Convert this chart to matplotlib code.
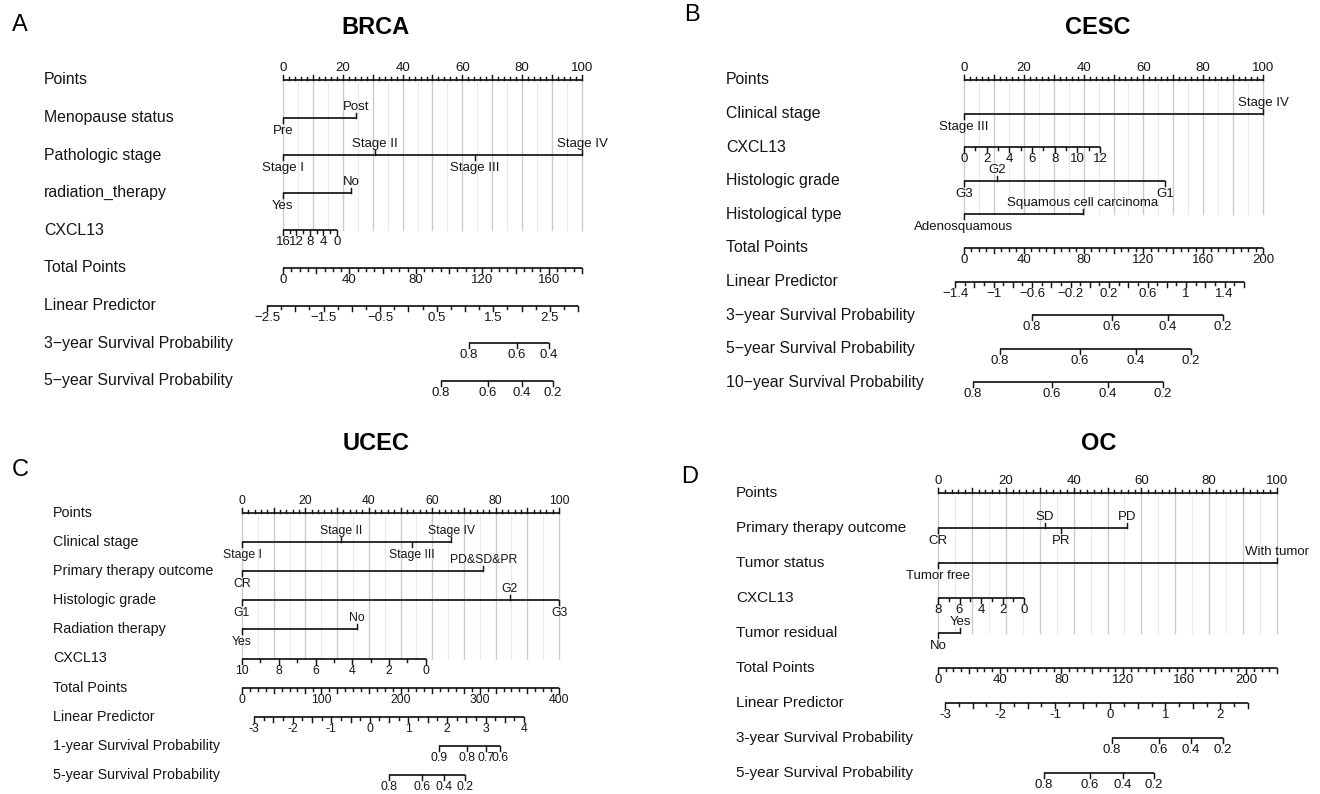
import numpy as np
import matplotlib.pyplot as plt

plt.rcParams['font.family'] = ['Liberation Sans', 'DejaVu Sans']

W, H, DPI = 1320, 794, 100
INK = '#151515'
LW = 1.25

# ---------------- A: BRCA ----------------
brca_menopause = ['Pre', 'Post']
brca_menopause_pts = [0, 24.5]
brca_stage = ['Stage I', 'Stage II', 'Stage III', 'Stage IV']
brca_stage_pts = [0, 30.7, 64.2, 100]
brca_radiation = ['Yes', 'No']
brca_radiation_pts = [0, 22.8]
brca_cxcl13_ends = [16, 0]
brca_cxcl13_end_pts = [0, 18]
brca_cxcl13_labels = [16, 12, 8, 4, 0]
brca_total_max = 180
brca_total_labels = [0, 40, 80, 120, 160]
brca_lp_ends = [-2.5, 3.0]
brca_lp_end_pts = [-5.35, 98.7]
brca_lp_labels = [-2.5, -1.5, -0.5, 0.5, 1.5, 2.5]
brca_surv3 = [0.8, 0.6, 0.4]
brca_surv3_pts = [62.2, 78.3, 89.0]
brca_surv5 = [0.8, 0.6, 0.4, 0.2]
brca_surv5_pts = [52.8, 68.6, 79.9, 90.3]

# ---------------- B: CESC ----------------
cesc_stage = ['Stage III', 'Stage IV']
cesc_stage_pts = [0, 100]
cesc_cxcl13_ends = [0, 12]
cesc_cxcl13_end_pts = [0, 45.5]
cesc_cxcl13_labels = [0, 2, 4, 6, 8, 10, 12]
cesc_grade = ['G3', 'G2', 'G1']
cesc_grade_pts = [0, 11.0, 67.2]
cesc_type = ['Adenosquamous', 'Squamous cell carcinoma']
cesc_type_pts = [0, 39.8]
cesc_total_max = 200
cesc_total_labels = [0, 40, 80, 120, 160, 200]
cesc_lp_ends = [-1.4, 1.6]
cesc_lp_end_pts = [-3.0, 93.6]
cesc_lp_labels = [-1.4, -1, -0.6, -0.2, 0.2, 0.6, 1, 1.4]
cesc_surv = [0.8, 0.6, 0.4, 0.2]
cesc_surv3_pts = [22.7, 49.5, 68.2, 86.6]
cesc_surv5_pts = [12.0, 38.8, 57.5, 75.9]
cesc_surv10_pts = [3.0, 29.4, 48.2, 66.6]

# ---------------- C: UCEC ----------------
ucec_stage = ['Stage I', 'Stage II', 'Stage III', 'Stage IV']
ucec_stage_pts = [0, 31.2, 53.5, 66.0]
ucec_outcome = ['CR', 'PD&SD&PR']
ucec_outcome_pts = [0, 76.1]
ucec_grade = ['G1', 'G2', 'G3']
ucec_grade_pts = [0, 84.5, 100]
ucec_radiation = ['Yes', 'No']
ucec_radiation_pts = [0, 36.2]
ucec_cxcl13_ends = [10, 0]
ucec_cxcl13_end_pts = [0, 58]
ucec_cxcl13_labels = [10, 8, 6, 4, 2, 0]
ucec_total_max = 400
ucec_total_labels = [0, 100, 200, 300, 400]
ucec_lp_ends = [-3, 4]
ucec_lp_end_pts = [3.8, 89.0]
ucec_lp_labels = [-3, -2, -1, 0, 1, 2, 3, 4]
ucec_surv1 = [0.9, 0.8, 0.7, 0.6]
ucec_surv1_pts = [62.1, 71.0, 77.0, 81.4]
ucec_surv5 = [0.8, 0.6, 0.4, 0.2]
ucec_surv5_pts = [46.4, 56.8, 63.7, 70.3]

# ---------------- D: OC ----------------
oc_outcome = ['CR', 'SD', 'PR', 'PD']
oc_outcome_pts = [0, 31.5, 36.3, 55.7]
oc_status = ['Tumor free', 'With tumor']
oc_status_pts = [0, 100]
oc_cxcl13_ends = [8, 0]
oc_cxcl13_end_pts = [0, 25.4]
oc_cxcl13_labels = [8, 6, 4, 2, 0]
oc_residual = ['No', 'Yes']
oc_residual_pts = [0, 6.5]
oc_total_max = 220
oc_total_labels = [0, 40, 80, 120, 160, 200]
oc_lp_ends = [-3, 2.5]
oc_lp_end_pts = [2.1, 91.4]
oc_lp_labels = [-3, -2, -1, 0, 1, 2]
oc_surv = [0.8, 0.6, 0.4, 0.2]
oc_surv3_pts = [51.3, 65.2, 74.6, 84.1]
oc_surv5_pts = [31.3, 44.8, 54.6, 63.7]

panels = [
    dict(letter='A', letter_xy=(20, 25), title='BRCA', title_xy=(375, 27),
         px0=283, px100=582, y0=80, dy=37.6, label_x=44, label_fs=11.4, tick_fs=9.5,
         minus='\u2212',
         rows=[('points', 'Points'),
               ('factor', 'Menopause status', brca_menopause, brca_menopause_pts),
               ('factor', 'Pathologic stage', brca_stage, brca_stage_pts),
               ('factor', 'radiation_therapy', brca_radiation, brca_radiation_pts),
               ('cont', 'CXCL13', brca_cxcl13_ends, brca_cxcl13_end_pts, brca_cxcl13_labels, 2),
               ('total', 'Total Points', brca_total_max, brca_total_labels, 5),
               ('lp', 'Linear Predictor', brca_lp_ends, brca_lp_end_pts, brca_lp_labels, 0.25),
               ('surv', '3\u2212year Survival Probability', brca_surv3, brca_surv3_pts),
               ('surv', '5\u2212year Survival Probability', brca_surv5, brca_surv5_pts)]),
    dict(letter='B', letter_xy=(692, 15), title='CESC', title_xy=(1098, 27),
         px0=964, px100=1263, y0=80, dy=33.6, label_x=726, label_fs=11.4, tick_fs=9.5,
         minus='\u2212',
         rows=[('points', 'Points'),
               ('factor', 'Clinical stage', cesc_stage, cesc_stage_pts),
               ('cont', 'CXCL13', cesc_cxcl13_ends, cesc_cxcl13_end_pts, cesc_cxcl13_labels, 1),
               ('factor', 'Histologic grade', cesc_grade, cesc_grade_pts),
               ('factor', 'Histological type', cesc_type, cesc_type_pts),
               ('total', 'Total Points', cesc_total_max, cesc_total_labels, 5),
               ('lp', 'Linear Predictor', cesc_lp_ends, cesc_lp_end_pts, cesc_lp_labels, 0.1),
               ('surv', '3\u2212year Survival Probability', cesc_surv, cesc_surv3_pts),
               ('surv', '5\u2212year Survival Probability', cesc_surv, cesc_surv5_pts),
               ('surv', '10\u2212year Survival Probability', cesc_surv, cesc_surv10_pts)]),
    dict(letter='C', letter_xy=(20, 470), title='UCEC', title_xy=(376, 443),
         px0=242, px100=559, y0=513, dy=29.1, label_x=53, label_fs=10.3, tick_fs=8.8,
         minus='-',
         rows=[('points', 'Points'),
               ('factor', 'Clinical stage', ucec_stage, ucec_stage_pts),
               ('factor', 'Primary therapy outcome', ucec_outcome, ucec_outcome_pts),
               ('factor', 'Histologic grade', ucec_grade, ucec_grade_pts),
               ('factor', 'Radiation therapy', ucec_radiation, ucec_radiation_pts),
               ('cont', 'CXCL13', ucec_cxcl13_ends, ucec_cxcl13_end_pts, ucec_cxcl13_labels, 1),
               ('total', 'Total Points', ucec_total_max, ucec_total_labels, 10),
               ('lp', 'Linear Predictor', ucec_lp_ends, ucec_lp_end_pts, ucec_lp_labels, 0.25),
               ('surv', '1-year Survival Probability', ucec_surv1, ucec_surv1_pts),
               ('surv', '5-year Survival Probability', ucec_surv5, ucec_surv5_pts)]),
    dict(letter='D', letter_xy=(690, 477), title='OC', title_xy=(1099, 444),
         px0=938, px100=1277, y0=493, dy=35.0, label_x=736, label_fs=11.0, tick_fs=9.5,
         minus='-',
         rows=[('points', 'Points'),
               ('factor', 'Primary therapy outcome', oc_outcome, oc_outcome_pts),
               ('factor', 'Tumor status', oc_status, oc_status_pts),
               ('cont', 'CXCL13', oc_cxcl13_ends, oc_cxcl13_end_pts, oc_cxcl13_labels, 1),
               ('factor', 'Tumor residual', oc_residual, oc_residual_pts),
               ('total', 'Total Points', oc_total_max, oc_total_labels, 5),
               ('lp', 'Linear Predictor', oc_lp_ends, oc_lp_end_pts, oc_lp_labels, 0.25),
               ('surv', '3-year Survival Probability', oc_surv, oc_surv3_pts),
               ('surv', '5-year Survival Probability', oc_surv, oc_surv5_pts)]),
]

MAJOR_PX, MINOR_PX = 5, 3


def lin(v, v0, v1, p0, p1):
    return p0 + (np.asarray(v, float) - v0) * (p1 - p0) / (v1 - v0)


def fmt_num(v, minus):
    s = f'{v:g}'
    return s.replace('-', minus)


fig = plt.figure(figsize=(W / DPI, H / DPI), dpi=DPI)

for p in panels:
    ax = fig.add_axes([0, 0, 1, 1])
    ax.set_facecolor('none')
    ax.axis('off')
    ppp = (p['px100'] - p['px0']) / 100.0
    dy = p['dy']
    ax.set_xlim((0 - p['px0']) / ppp, (W - p['px0']) / ppp)
    ax.set_ylim((H - p['y0']) / dy, (0 - p['y0']) / dy)
    tfs = p['tick_fs']
    Lmaj, Lmin = MAJOR_PX / dy, MINOR_PX / dy
    up_off, dn_off = 11 / dy, 13 / dy
    lab_off = 12 / dy

    def scale(y, v0, v1, q0, q1, labels, step, up=False, major_step=None):
        lo, hi = min(v0, v1), max(v0, v1)
        ax.plot([q0, q1], [y, y], color=INK, lw=LW, solid_capstyle='butt')
        n = int(round((hi - lo) / step))
        ticks = lo + step * np.arange(n + 1)
        sign = -1 if up else 1
        for t in ticks:
            big = any(abs(t - l) < 1e-6 for l in labels)
            if major_step is not None and abs(t / major_step - round(t / major_step)) < 1e-6:
                big = True
            x = lin(t, v0, v1, q0, q1)
            ax.plot([x, x], [y, y + sign * (Lmaj if big else Lmin)], color=INK, lw=LW * 0.85)
        for l in labels:
            ax.text(lin(l, v0, v1, q0, q1), y + sign * lab_off, fmt_num(l, p['minus']),
                    ha='center', va='center', fontsize=tfs, color=INK)

    rows = p['rows']
    grid_end = [r[0] for r in rows].index('total') - 1
    for g in range(0, 101, 5):
        ax.plot([g, g], [0, grid_end], color='#cccccc' if g % 10 == 0 else '#eaeaea',
                lw=1.0 if g % 10 == 0 else 0.8, zorder=0)

    lx = (p['label_x'] - p['px0']) / ppp
    for i, r in enumerate(rows):
        kind, name = r[0], r[1]
        ax.text(lx, i, name, ha='left', va='center', fontsize=p['label_fs'], color=INK)
        if kind == 'points':
            scale(i, 0, 100, 0, 100, list(range(0, 101, 20)), 2, up=True, major_step=10)
        elif kind == 'factor':
            levels, pts = r[2], r[3]
            ax.plot([min(pts), max(pts)], [i, i], color=INK, lw=LW, solid_capstyle='butt')
            for k, (lev, q) in enumerate(zip(levels, pts)):
                sign = 1 if k % 2 == 0 else -1
                ax.plot([q, q], [i, i + sign * Lmaj], color=INK, lw=LW * 0.85)
                ax.text(q, i + (dn_off if sign > 0 else -up_off), lev, ha='center', va='center',
                        fontsize=tfs, color=INK)
        elif kind == 'cont':
            ends, epts, labels, step = r[2], r[3], r[4], r[5]
            scale(i, ends[0], ends[1], epts[0], epts[1], labels, step)
        elif kind == 'total':
            tmax, labels, step = r[2], r[3], r[4]
            scale(i, 0, tmax, 0, 100, labels, step, major_step=step * 4)
        elif kind == 'lp':
            ends, epts, labels, step = r[2], r[3], r[4], r[5]
            scale(i, ends[0], ends[1], epts[0], epts[1], labels, step, major_step=step * 2)
        elif kind == 'surv':
            probs, pts = r[2], r[3]
            ax.plot([min(pts), max(pts)], [i, i], color=INK, lw=LW, solid_capstyle='butt')
            for pr, q in zip(probs, pts):
                ax.plot([q, q], [i, i + Lmaj], color=INK, lw=LW * 0.85)
                ax.text(q, i + lab_off, fmt_num(pr, p['minus']), ha='center', va='center',
                        fontsize=tfs, color=INK)

    fig.text(p['letter_xy'][0] / W, 1 - p['letter_xy'][1] / H, p['letter'],
             ha='center', va='center', fontsize=17, color='black')
    fig.text(p['title_xy'][0] / W, 1 - p['title_xy'][1] / H, p['title'],
             ha='center', va='center', fontsize=17, fontweight='bold', color='black',
             family=['Liberation Sans', 'DejaVu Sans'])

fig.savefig('out.png', dpi=DPI)
